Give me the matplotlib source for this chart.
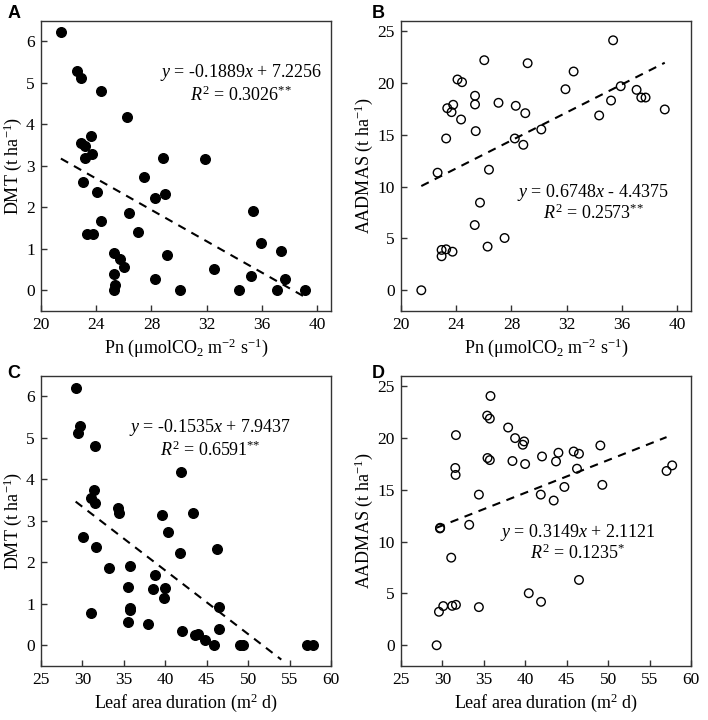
import matplotlib
matplotlib.use("Agg")
import matplotlib.pyplot as plt

plt.rcParams["font.family"] = ["Liberation Serif", "DejaVu Serif"]
plt.rcParams["mathtext.fontset"] = "custom"
plt.rcParams["mathtext.rm"] = "Liberation Serif"
plt.rcParams["mathtext.it"] = "Liberation Serif:italic"

# panel A: Pn vs DMT
pn_a = [21.44, 22.58, 22.87, 24.31, 26.23, 23.61, 22.87, 23.18, 23.18, 23.70,
        28.83, 31.86, 27.46, 23.05, 24.02, 28.23, 29.00, 26.35, 35.33, 24.35,
        27.03, 23.34, 23.73, 35.91, 37.40, 25.27, 25.70, 29.12, 26.01, 32.51,
        25.27, 35.21, 37.69, 28.28, 25.34, 25.32, 30.10, 34.35, 37.09, 39.13]
dmt_a = [6.22, 5.29, 5.12, 4.80, 4.18, 3.73, 3.55, 3.47, 3.20, 3.29,
         3.20, 3.16, 2.74, 2.61, 2.37, 2.22, 2.32, 1.87, 1.92, 1.68,
         1.41, 1.36, 1.36, 1.15, 0.94, 0.89, 0.75, 0.85, 0.55, 0.51,
         0.39, 0.34, 0.28, 0.26, 0.12, 0.00, 0.00, 0.00, 0.00, 0.00]

# panel B: Pn vs AADMAS
pn_b = [21.47, 22.65, 22.94, 22.94, 23.27, 23.73, 23.27, 23.35, 23.78, 23.66,
        24.09, 24.42, 24.35, 26.03, 25.36, 25.36, 25.41, 27.06, 25.72, 25.34,
        26.37, 26.27, 27.50, 29.17, 28.31, 29.00, 28.24, 28.86, 30.16, 31.91,
        32.50, 34.35, 35.36, 35.21, 35.91, 37.06, 37.40, 37.71, 39.10]
aadmas_b = [0.00, 11.34, 3.28, 3.89, 3.95, 3.72, 14.64, 17.56, 17.89, 17.18,
            20.33, 20.07, 16.47, 22.19, 18.76, 17.92, 15.35, 18.08, 8.45, 6.29,
            11.63, 4.21, 5.04, 21.90, 17.79, 17.08, 14.64, 14.03, 15.51, 19.39,
            21.10, 16.86, 24.11, 18.30, 19.68, 19.33, 18.59, 18.59, 17.44]

# panel C: LAD vs DMT
lad_c = [29.18, 29.70, 29.50, 31.50, 41.90, 31.42, 30.98, 31.50, 34.31, 34.36,
         39.66, 43.35, 40.34, 30.02, 31.63, 41.83, 46.24, 33.15, 35.80, 38.73,
         35.52, 38.49, 39.98, 39.82, 46.48, 35.76, 35.72, 30.98, 35.44, 37.93,
         41.99, 46.48, 43.60, 44.00, 44.76, 45.88, 49.01, 49.34, 57.05, 57.80]
dmt_c = [6.21, 5.28, 5.12, 4.80, 4.18, 3.74, 3.54, 3.44, 3.30, 3.19,
         3.15, 3.19, 2.73, 2.62, 2.37, 2.22, 2.31, 1.87, 1.91, 1.69,
         1.40, 1.36, 1.37, 1.15, 0.93, 0.91, 0.84, 0.77, 0.56, 0.52,
         0.35, 0.39, 0.25, 0.27, 0.13, 0.00, 0.00, 0.00, 0.00, 0.00]

# panel D: LAD vs AADMAS
lad_d = [29.30, 29.58, 30.10, 31.18, 31.63, 34.40, 31.06, 29.70, 29.73, 33.23,
         34.40, 31.63, 31.55, 31.59, 35.80, 35.40, 35.72, 37.93, 38.77, 39.86,
         39.70, 35.44, 35.72, 38.45, 39.98, 42.02, 43.71, 44.00, 45.84, 46.48,
         46.24, 49.06, 49.30, 44.72, 41.87, 43.43, 46.48, 40.42, 41.90, 57.05,
         57.73]
aadmas_d = [0.00, 3.23, 3.78, 3.80, 3.90, 3.68, 8.45, 11.27, 11.33, 11.62,
            14.53, 20.27, 17.10, 16.43, 24.04, 22.15, 21.86, 21.00, 19.98, 19.66,
            19.34, 18.06, 17.86, 17.77, 17.48, 18.21, 17.73, 18.57, 18.69, 18.47,
            17.03, 19.27, 15.47, 15.27, 14.53, 13.96, 6.30, 5.02, 4.19, 16.81,
            17.35]

# (slope, intercept, x start, x end)
fit_a = (-0.1889, 7.2256, 21.44, 39.13)
fit_b = (0.6748, -4.4375, 21.47, 39.10)
fit_c = (-0.1535, 7.9437, 29.18, 54.0)
fit_d = (0.3149, 2.1121, 29.30, 57.05)

eq_a = ["$y$ = -0.1889$x$ + 7.2256", "$R^2$ = 0.3026$^{{*}{*}}$"]
eq_b = ["$y$ = 0.6748$x$ - 4.4375", "$R^2$ = 0.2573$^{{*}{*}}$"]
eq_c = ["$y$ = -0.1535$x$ + 7.9437", "$R^2$ = 0.6591$^{{*}{*}}$"]
eq_d = ["$y$ = 0.3149$x$ + 2.1121", "$R^2$ = 0.1235$^{{*}}$"]

xlabel_pn = "Pn (\u03bcmolCO$_2$ m$^{-2}$ s$^{-1}$)"
xlabel_lad = "Leaf area duration (m$^2$ d)"
ylabel_dmt = "DMT (t ha$^{-1}$)"
ylabel_aad = "AADMAS (t ha$^{-1}$)"

fig = plt.figure(figsize=(7.08, 7.2), dpi=100)
W, H = 708, 720


def make_ax(left, top, right, bottom):
    return fig.add_axes([left / W, 1 - bottom / H, (right - left) / W, (bottom - top) / H])


def style(ax):
    for sp in ax.spines.values():
        sp.set_color("#333333")
        sp.set_linewidth(1.0)
    ax.tick_params(direction="in", length=4, width=1, labelsize=12.5, pad=4.5,
                   colors="#333333", labelcolor="black")


def draw(ax, x, y, fit, eq, eq_pos, filled):
    if filled:
        ax.scatter(x, y, s=48, c="black", zorder=3)
    else:
        ax.scatter(x, y, s=38, facecolors="none", edgecolors="black", linewidths=1.0, zorder=3)
    k, b, x0, x1 = fit
    ax.plot([x0, x1], [k * x0 + b, k * x1 + b], color="black", lw=1.5,
            linestyle=(0, (4, 3.2)), zorder=2)
    ex, ey1, ey2 = eq_pos
    ax.text(ex, ey1, eq[0], ha="center", va="center", fontsize=13)
    ax.text(ex, ey2, eq[1], ha="center", va="center", fontsize=13)
    style(ax)


ax_a = make_ax(41, 20.7, 331, 311)
ax_b = make_ax(401, 20.7, 691, 311)
ax_c = make_ax(41, 375.7, 331, 666)
ax_d = make_ax(401, 375.7, 691, 666)

draw(ax_a, pn_a, dmt_a, fit_a, eq_a, (34.5, 5.25, 4.69), True)
draw(ax_b, pn_b, aadmas_b, fit_b, eq_b, (33.9, 9.47, 7.39), False)
draw(ax_c, lad_c, dmt_c, fit_c, eq_c, (45.4, 5.25, 4.70), True)
draw(ax_d, lad_d, aadmas_d, fit_d, eq_d, (46.4, 10.91, 8.84), False)

for ax in (ax_a, ax_b):
    ax.set_xlim(20, 41)
    ax.set_xticks([20, 24, 28, 32, 36, 40])
    ax.set_xlabel(xlabel_pn, fontsize=13, labelpad=2)
for ax in (ax_c, ax_d):
    ax.set_xlim(25, 60)
    ax.set_xticks([25, 30, 35, 40, 45, 50, 55, 60])
    ax.set_xlabel(xlabel_lad, fontsize=13, labelpad=2)
for ax in (ax_a, ax_c):
    ax.set_ylim(-0.5, 6.5)
    ax.set_yticks(range(0, 7))
for ax in (ax_b, ax_d):
    ax.set_ylim(-2, 26)
    ax.set_yticks(range(0, 26, 5))

# y labels placed at fixed figure positions (right edge of the rotated text)
for ax, txt, px in ((ax_a, ylabel_dmt, 24), (ax_c, ylabel_dmt, 24),
                    (ax_b, ylabel_aad, 375), (ax_d, ylabel_aad, 375)):
    ax.set_ylabel(txt, fontsize=13)
    pos = ax.get_position()
    ax.yaxis.set_label_coords(px / W, (pos.y0 + pos.y1) / 2, transform=fig.transFigure)

for lbl, px, py in (("A", 14, 13), ("B", 378, 13), ("C", 14, 373), ("D", 378, 373)):
    fig.text(px / W, 1 - py / H, lbl, fontsize=13, fontweight="bold",
             family="Liberation Sans", ha="center", va="center")

fig.savefig("out.png", dpi=100)
